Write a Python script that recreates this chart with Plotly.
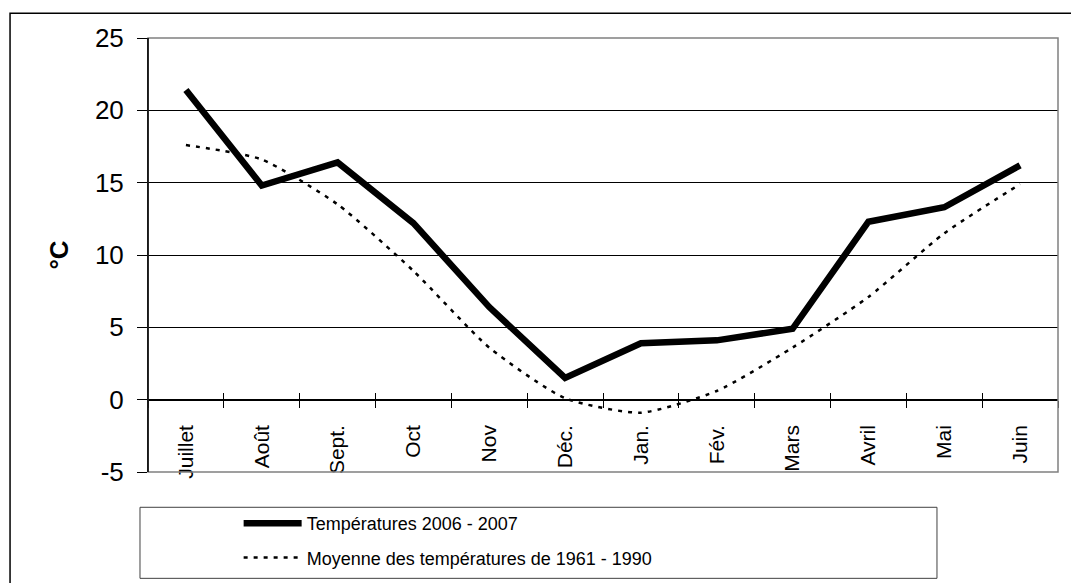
import plotly.graph_objects as go

months = ["Juillet", "Août", "Sept.", "Oct", "Nov", "Déc.", "Jan.", "Fév.", "Mars", "Avril", "Mai", "Juin"]
temp_2006_2007 = [21.4, 14.8, 16.4, 12.2, 6.4, 1.5, 3.9, 4.1, 4.9, 12.3, 13.3, 16.2]
moyenne_1961_1990 = [17.6, 16.6, 13.5, 8.9, 3.6, 0.1, -0.9, 0.6, 3.6, 7.1, 11.5, 14.9]
y_ticks = [-5, 0, 5, 10, 15, 20, 25]
y_tick_text = ["-5", "0", "5", "10", "15", "20", "25"]
boundaries = [k - 0.5 for k in range(1, 12)]

FONT = "Liberation Sans, Arial, sans-serif"

fig = go.Figure()
fig.add_trace(go.Scatter(
    x=months, y=temp_2006_2007, mode="lines",
    name="Températures 2006 - 2007", legendgroup="a",
    line=dict(color="black", width=6.5),
))
fig.add_trace(go.Scatter(
    x=months, y=moyenne_1961_1990, mode="lines",
    name="Moyenne des températures de 1961 - 1990", legendgroup="b",
    line=dict(color="black", width=2.5, dash="4px,6px", shape="spline", smoothing=0.6),
))

y0pos = (0 - (-5)) / 30.0

# page body has an 8px margin: the figure is sized/offset to compensate
fig.update_layout(
    width=1071, height=575,
    margin=dict(l=140, r=21, t=30, b=111, autoexpand=False),
    paper_bgcolor="white", plot_bgcolor="white",
    showlegend=True,
    legend=dict(
        x=0.0996, y=-0.076, xanchor="left", yanchor="top",
        font=dict(family=FONT, size=18, color="black"),
        bgcolor="rgba(0,0,0,0)", borderwidth=0,
        itemwidth=58, traceorder="grouped", tracegroupgap=8,
    ),
    xaxis=dict(
        type="category", categoryorder="array", categoryarray=months,
        range=[-0.5, 11.5],
        anchor="free", position=y0pos, automargin=False,
        showline=True, linecolor="black", linewidth=1,
        ticks="outside", ticklen=7, tickcolor="black", tickwidth=1,
        tickson="boundaries",
        tickangle=-90,
        ticklabelstandoff=16,
        tickfont=dict(family=FONT, size=21, color="black"),
        showgrid=False, zeroline=False,
    ),
    xaxis2=dict(
        overlaying="x", anchor="free", position=y0pos, automargin=False,
        range=[-0.5, 11.5], tickvals=boundaries,
        ticks="inside", ticklen=7, tickcolor="black", tickwidth=1,
        showticklabels=False, showline=False, showgrid=False, zeroline=False,
    ),
    yaxis=dict(
        range=[-5, 25], tickvals=y_ticks, ticktext=y_tick_text, automargin=False,
        showline=True, linecolor="black", linewidth=1,
        ticks="outside", ticklen=10, tickcolor="black",
        ticklabelstandoff=8,
        tickfont=dict(family=FONT, size=26, color="black"),
        showgrid=True, gridcolor="black", gridwidth=1,
        zeroline=False,
        title=dict(text="<b>°C</b>", font=dict(family=FONT, size=26, color="black"), standoff=18),
    ),
)

# invisible trace to activate xaxis2
fig.add_trace(go.Scatter(x=[0], y=[0], xaxis="x2", mode="markers",
                         marker=dict(opacity=0), showlegend=False, hoverinfo="skip"))

# plot border (grey), legend box, outer chart frame
fig.add_shape(type="rect", xref="paper", yref="paper", x0=0, x1=1, y0=0, y1=1,
              line=dict(color="#808080", width=1.5))
fig.add_shape(type="line", xref="paper", yref="paper", x0=0, x1=0, y0=0, y1=1,
              line=dict(color="black", width=1.5))
fig.add_shape(type="rect", xref="paper", yref="paper",
              x0=-0.0088, x1=0.867, y0=-0.245, y1=-0.0813,
              line=dict(color="#404040", width=1))
fig.add_shape(type="rect", xref="paper", yref="paper",
              x0=-0.1516, x1=1.0209, y0=-0.30, y1=1.057,
              line=dict(color="black", width=1.5))

fig.write_html("out.html")
